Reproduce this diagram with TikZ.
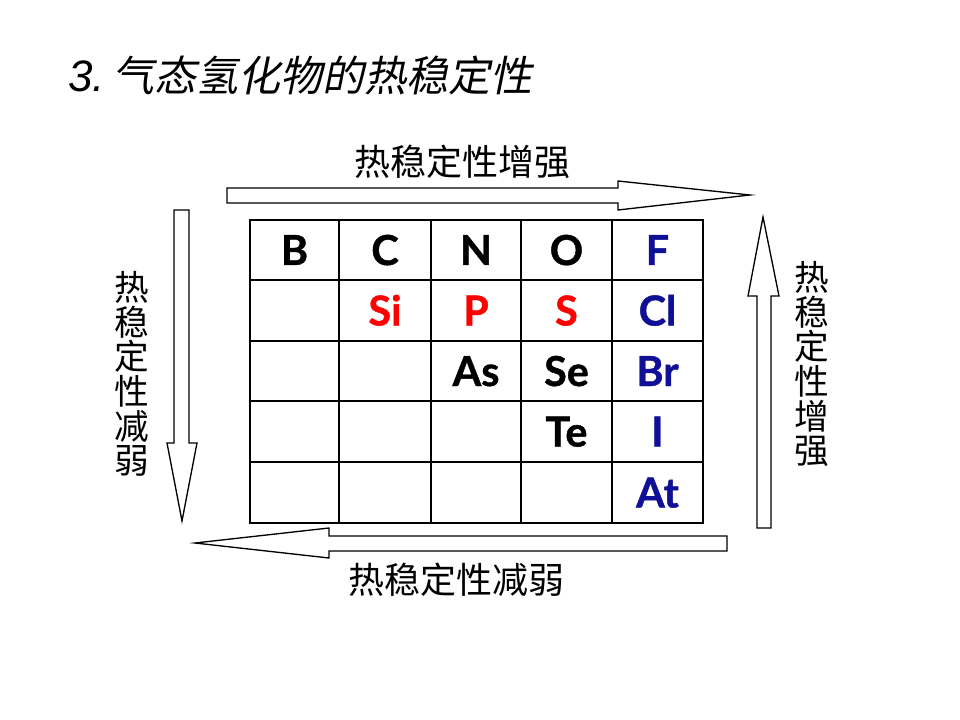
\documentclass[tikz,border=0pt]{standalone}
\usepackage{fontspec}
\newfontfamily\cjk{Noto Sans CJK SC}
\newfontfamily\cjkslant[FakeSlant=0.2]{Noto Sans CJK SC}
\newfontfamily\elemfont[FakeBold=1]{Lato}
\newfontfamily\arialfont{Liberation Sans}
\definecolor{elred}{RGB}{255,0,0}
\definecolor{elblue}{RGB}{16,16,150}
\tikzset{
  blockarrow/.style={draw=black, line width=1pt, fill=white, line join=miter},
  gridline/.style={draw=black, line width=0.9pt},
  elem/.style={anchor=base, inner sep=0pt, font=\elemfont\bfseries\fontsize{31}{31}\selectfont},
  hlabel/.style={anchor=center, inner sep=0pt, font=\cjk\fontsize{27}{27}\selectfont},
  vlabel/.style={anchor=center, inner sep=0pt, align=center, font=\cjk\fontsize{26}{26}\selectfont},
}
\begin{document}
\begin{tikzpicture}[x=0.75pt,y=-0.75pt]
\useasboundingbox (0,0) rectangle (960,720);
% title
\node[anchor=base west, inner sep=0pt] (title) at (68,92)
  {\fontsize{33}{33}\selectfont\arialfont\itshape 3.\hspace{6pt}\fontsize{31.5}{31.5}\selectfont\cjkslant 气态氢化物的热稳定性};
% block arrows
\draw[blockarrow] (227,188) -- (618,188) -- (618,181) -- (750,195) -- (618,210) -- (618,203) -- (227,203) -- cycle;
\draw[blockarrow] (174,210) -- (189,210) -- (189,443) -- (197,443) -- (182,521) -- (167,443) -- (174,443) -- cycle;
\draw[blockarrow] (757,528) -- (771,528) -- (771,296) -- (779,296) -- (763,217) -- (748,296) -- (757,296) -- cycle;
\draw[blockarrow] (727,536) -- (329,536) -- (329,528) -- (195,543) -- (329,558) -- (329,551) -- (727,551) -- cycle;
% labels
\node[hlabel] (ltop) at (462,162) {热稳定性增强};
\node[hlabel] (lbot) at (456,580) {热稳定性减弱};
\node[vlabel] (lleft) at (132,374) {热\\稳\\定\\性\\减\\弱};
\node[vlabel] (lright) at (812,364) {热\\稳\\定\\性\\增\\强};
% table grid
\draw[gridline] (250,220) rectangle (703,523);
\foreach \x in {339,431,521,612} \draw[gridline] (\x,220) -- (\x,523);
\foreach \y in {280,341,401,462} \draw[gridline] (250,\y) -- (703,\y);
% elements (baseline = row centre + 15)
\node[elem] (eB)  at (294.5,265) {B};
\node[elem] (eC)  at (385,265) {C};
\node[elem] (eN)  at (476,265) {N};
\node[elem] (eO)  at (566.5,265) {O};
\node[elem, text=elblue] (eF)  at (657.5,265) {F};
\node[elem, text=elred] (eSi) at (385,325.5) {Si};
\node[elem, text=elred] (eP)  at (476,325.5) {P};
\node[elem, text=elred] (eS)  at (566.5,325.5) {S};
\node[elem, text=elblue] (eCl) at (657.5,325.5) {Cl};
\node[elem] (eAs) at (476,386) {As};
\node[elem] (eSe) at (566.5,386) {Se};
\node[elem, text=elblue] (eBr) at (657.5,386) {Br};
\node[elem] (eTe) at (566.5,446.5) {Te};
\node[elem, text=elblue] (eI)  at (657.5,446.5) {I};
\node[elem, text=elblue] (eAt) at (657.5,507.5) {At};
\end{tikzpicture}
\end{document}
